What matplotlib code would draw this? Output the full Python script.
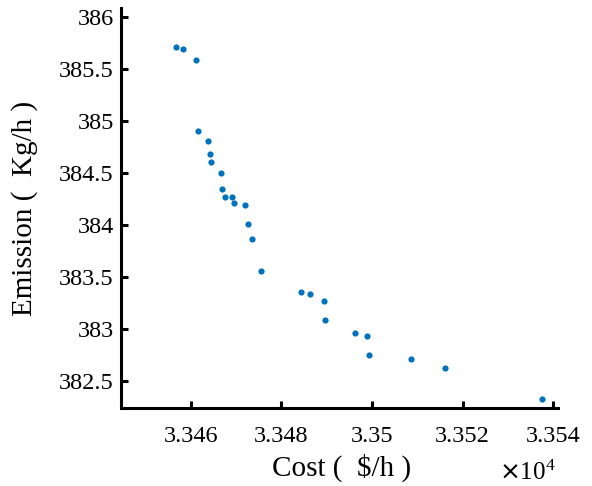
import matplotlib.pyplot as plt
from matplotlib.ticker import FuncFormatter

# Pareto front: cost vs emission
cost = [33456.7, 33458.2, 33461.1, 33461.5, 33463.8, 33464.2, 33464.4, 33466.6,
        33466.9, 33467.5, 33469.1, 33469.5, 33471.9, 33472.6, 33473.5, 33475.5,
        33484.3, 33486.3, 33489.4, 33489.6, 33496.2, 33498.9, 33499.3, 33508.6,
        33516.1, 33537.6]
emission = [385.71, 385.69, 385.59, 384.90, 384.81, 384.68, 384.61, 384.50,
            384.35, 384.27, 384.27, 384.21, 384.19, 384.01, 383.87, 383.56,
            383.36, 383.34, 383.27, 383.09, 382.96, 382.93, 382.75, 382.71,
            382.62, 382.33]

x_ticks = [33460, 33480, 33500, 33520, 33540]
y_ticks = [382.5, 383, 383.5, 384, 384.5, 385, 385.5, 386]

plt.rcParams['font.family'] = ['Liberation Serif', 'DejaVu Serif']

fig = plt.figure(figsize=(5.92, 4.86), dpi=100)
ax = fig.add_axes([0.204, 0.1605, 0.7386, 0.823])

ax.scatter(cost, emission, s=20, color='#0072BD', linewidths=0)

ax.set_xlim(33444.5, 33541.1)
ax.set_ylim(382.24, 386.087)
ax.set_xticks(x_ticks)
ax.set_yticks(y_ticks)
ax.xaxis.set_major_formatter(FuncFormatter(lambda v, p: '%g' % round(v / 1e4, 4)))
ax.yaxis.set_major_formatter(FuncFormatter(lambda v, p: '%g' % v))

for side in ['top', 'right']:
    ax.spines[side].set_visible(False)
for side in ['left', 'bottom']:
    ax.spines[side].set_linewidth(2.2)

ax.tick_params(direction='in', length=5, width=2.2, labelsize=17.5)
ax.tick_params(axis='x', pad=13)
ax.tick_params(axis='y', pad=5)
ax.set_xlabel('Cost (  $/h )', fontsize=21)
ax.set_ylabel('Emission (  Kg/h )', fontsize=21)
ax.xaxis.set_label_coords(0.506, -0.115)
ax.yaxis.set_label_coords(-0.19, 0.5)

fig.text(0.89, 0.013, r'$\times\mathregular{10^4}$', fontsize=18, ha='center')

fig.savefig('out.png', dpi=100)
